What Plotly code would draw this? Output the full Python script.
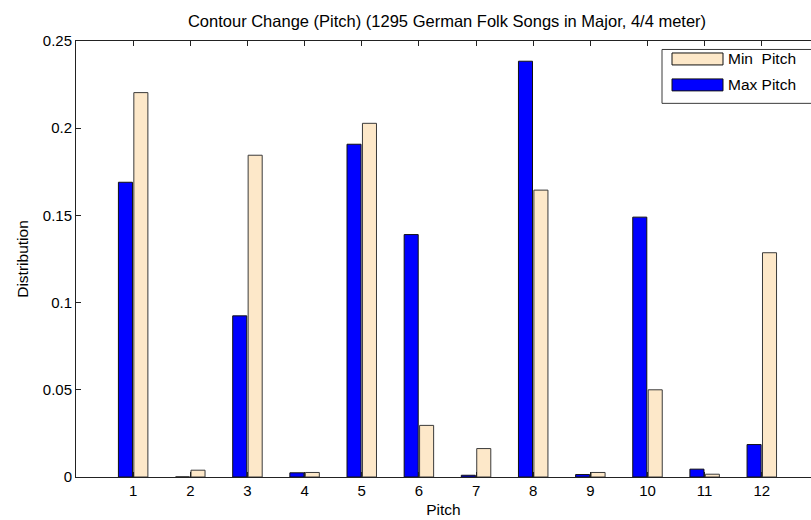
import plotly.graph_objects as go

# Pitch classes and contour-change distributions
pitches = list(range(1, 13))
max_pitch = [0.169, 0.0, 0.0924, 0.0024, 0.1908, 0.139, 0.001, 0.2384, 0.0014, 0.149, 0.0045, 0.0186]
min_pitch = [0.2204, 0.0039, 0.1845, 0.0026, 0.2028, 0.0296, 0.0163, 0.1645, 0.0026, 0.050, 0.0016, 0.1286]
y_ticks = [0, 0.05, 0.1, 0.15, 0.2, 0.25]
y_tick_text = ["0", "0.05", "0.1", "0.15", "0.2", "0.25"]

W, H = 811, 520
L, T, B = 76, 40.5, 42.5
plot_w = W - L
plot_h = H - T - B
px_per_unit = 57.15  # horizontal spacing between pitch groups

FONT = "Liberation Sans, Arial, sans-serif"
AX = "#222222"
EDGE = "#3a3a3a"
BLUE = "#0000ff"
BISQUE = "#fde8c9"

fig = go.Figure()
fig.add_trace(go.Bar(x=pitches, y=max_pitch, name="Max Pitch",
                     marker=dict(color=BLUE, line=dict(color="#111111", width=1))))
fig.add_trace(go.Bar(x=pitches, y=min_pitch, name="Min  Pitch",
                     marker=dict(color=BISQUE, line=dict(color=EDGE, width=1))))


def px_x(p):
    return (p - L) / plot_w


def px_y(p):
    return (H - B - p) / plot_h


shapes = []
annotations = []

# Legend box in the upper right corner of the axes
shapes.append(dict(type="rect", xref="paper", yref="paper",
                   x0=px_x(662), x1=px_x(840), y0=px_y(103), y1=px_y(49),
                   fillcolor="white", line=dict(color=EDGE, width=1), layer="above"))
legend_rows = [("Min\u00a0 Pitch", BISQUE, 52.5, 64.5, 58.5),
               ("Max Pitch", BLUE, 78.5, 90.5, 84.5)]
for label, color, top, bottom, mid in legend_rows:
    shapes.append(dict(type="rect", xref="paper", yref="paper",
                       x0=px_x(672), x1=px_x(723), y0=px_y(bottom), y1=px_y(top),
                       fillcolor=color, line=dict(color="#111111", width=1), layer="above"))
    annotations.append(dict(text=label, xref="paper", yref="paper",
                            x=px_x(726), y=px_y(mid), xanchor="left", yanchor="middle",
                            showarrow=False, font=dict(family=FONT, size=15.5, color="black")))

fig.update_layout(
    width=W, height=H,
    margin=dict(l=L, r=0, t=T, b=B, pad=0),
    paper_bgcolor="white", plot_bgcolor="white",
    barmode="group", bargap=0.46, bargroupgap=0.09,
    showlegend=False,
    title=dict(text="Contour Change (Pitch) (1295 German Folk Songs in Major, 4/4 meter)",
               x=447 / W, xref="container", xanchor="center",
               y=1 - 21 / H, yref="container", yanchor="middle",
               font=dict(family=FONT, size=16.5, color="black")),
    font=dict(family=FONT, size=15, color="black"),
    shapes=shapes, annotations=annotations,
)

fig.update_xaxes(
    range=[0, plot_w / px_per_unit],
    tickvals=pitches, ticktext=[str(p) for p in pitches],
    ticks="inside", ticklen=5, tickwidth=1, tickcolor=AX,
    showline=True, linecolor=AX, linewidth=1, mirror="ticks",
    showgrid=False, zeroline=False,
    tickfont=dict(family=FONT, size=15, color="black"),
    title=dict(text="Pitch", font=dict(family=FONT, size=15.5, color="black"), standoff=6),
)
fig.update_yaxes(
    range=[0, 0.25],
    tickvals=y_ticks, ticktext=y_tick_text,
    ticks="inside", ticklen=5, tickwidth=1, tickcolor=AX,
    showline=True, linecolor=AX, linewidth=1, mirror=False,
    showgrid=False, zeroline=False,
    tickfont=dict(family=FONT, size=15, color="black"),
    title=dict(text="Distribution", font=dict(family=FONT, size=15.5, color="black"), standoff=10),
)

fig.write_html("out.html")
